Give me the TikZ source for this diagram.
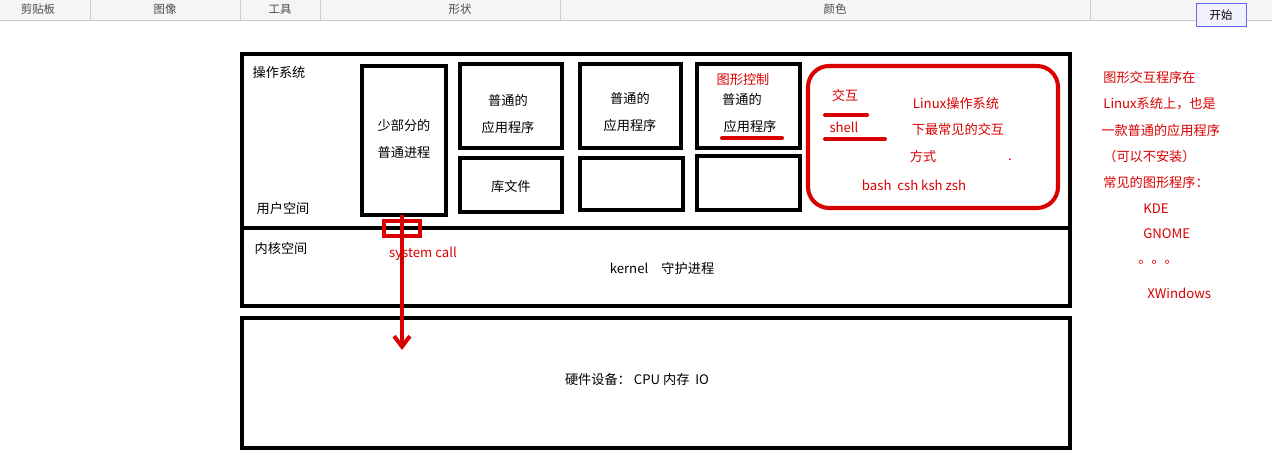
\documentclass[tikz,border=0pt]{standalone}
\usepackage{fontspec}
\setmainfont{Noto Sans CJK SC}
\usetikzlibrary{arrows.meta}
\tikzset{
  box/.style={draw=black, line width=2.3pt},
  txt/.style={font=\fontsize{7.5}{9}\selectfont, inner sep=0pt},
  rtxt/.style={txt, text=red!85!black},
  note/.style={rtxt, anchor=west},
  redline/.style={red!85!black, line width=2.3pt, line cap=round},
  tool/.style={font=\fontsize{6.5}{8}\selectfont, text=black!70, inner sep=0pt}
}
\begin{document}
\begin{tikzpicture}[x=0.02cm,y=-0.02cm]
\useasboundingbox (0,0) rectangle (1272,475);
% toolbar
\fill[black!4] (0,0) rectangle (1272,20);
\draw[black!20] (0,20) -- (1272,20);
\foreach \sx in {90,240,320,560,1090}
  \draw[black!20] (\sx,0) -- (\sx,20);
\node[tool] (tb1) at (38,9) {剪贴板};
\node[tool] (tb2) at (165,9) {图像};
\node[tool] (tb3) at (280,9) {工具};
\node[tool] (tb4) at (460,9) {形状};
\node[tool] (tb5) at (835,9) {颜色};
\node[tool, draw=blue!60, fill=blue!5, minimum width=1cm, minimum height=0.45cm, text=black] (start) at (1221,15) {开始};
% layers
\draw[box] (242,54) rectangle (1070,228);
\draw[box] (242,228) rectangle (1070,306);
\draw[box] (242,318) rectangle (1070,448);
% user space boxes
\draw[box] (362,66) rectangle (446,215);
\draw[box] (460,64) rectangle (562,148);
\draw[box] (460,158) rectangle (562,212);
\draw[box] (580,64) rectangle (681,148);
\draw[box] (580,158) rectangle (683,210);
\draw[box] (697,64) rectangle (800,148);
\draw[box] (697,156) rectangle (800,210);
\draw[red!85!black, line width=2.3pt, rounded corners=12pt] (808,66) rectangle (1058,208);
% texts
\node[txt] (os) at (279,72) {操作系统};
\node[txt] (us) at (283,208) {用户空间};
\node[txt] (ks) at (281,248) {内核空间};
\node[txt] (kern) at (662,268) {kernel\quad 守护进程};
\node[txt] (hw) at (637,379) {硬件设备：\ CPU 内存\ \ IO};
\node[txt, align=center] (proc) at (404,139) {少部分的\\[6pt]普通进程};
\node[txt, align=center] (app1) at (508,114) {普通的\\[6pt]应用程序};
\node[txt, align=center] (app2) at (630,112) {普通的\\[6pt]应用程序};
\node[txt] (lib) at (511,186) {库文件};
\node[rtxt] (gui) at (743,80) {图形控制};
\node[txt] (app3a) at (742,99) {普通的};
\node[txt] (app3b) at (750,126) {应用程序};
\draw[redline] (722,138) -- (782,138);
\node[rtxt] (inter) at (845,95) {交互};
\draw[redline] (825,115) -- (867,115);
\node[rtxt] (shell) at (844,127) {shell};
\draw[redline] (825,139) -- (885,139);
\node[rtxt] (l1) at (956,103) {Linux操作系统};
\node[rtxt] (l2) at (958,129) {下最常见的交互};
\node[rtxt] (l3) at (923,156) {方式};
\node[rtxt] (dot) at (1010,160) {.};
\node[rtxt] (sh) at (914,185) {bash\ \ csh ksh zsh};
% system call
\draw[red!85!black, line width=2.3pt] (384,221) rectangle (420,236);
\coordinate (sc0) at (402,215);
\coordinate (sc1) at (402,350);
\draw[red!85!black, line width=2.3pt, -{Straight Barb[length=6pt,width=9pt]}] (sc0) -- (sc1);
\node[rtxt] (sc) at (423,254) {system call};
% note
\node[note] (n1) at (1103,77) {图形交互程序在};
\node[note] (n2) at (1103,104) {Linux系统上，也是};
\node[note] (n3) at (1101,130) {一款普通的应用程序};
\node[note] (n4) at (1103,157) {（可以不安装）};
\node[note] (n5) at (1103,183) {常见的图形程序：};
\node[note] (n6) at (1143,209) {KDE};
\node[note] (n7) at (1143,234) {GNOME};
\node[note] (n8) at (1138,262) {。。。};
\node[note] (n9) at (1147,293) {XWindows};
\end{tikzpicture}
\end{document}
